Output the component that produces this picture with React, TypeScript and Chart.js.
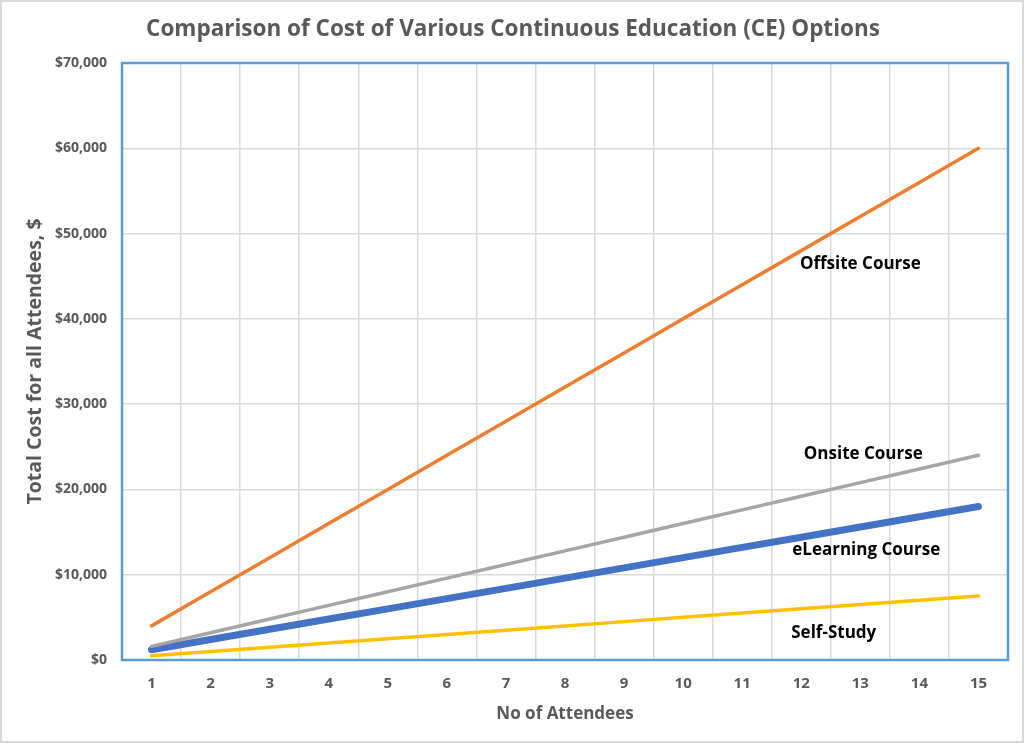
import { useEffect, useRef } from "react";
import { Chart, registerables } from "chart.js";

Chart.register(...registerables);

const attendees = ["1", "2", "3", "4", "5", "6", "7", "8", "9", "10", "11", "12", "13", "14", "15"];
const offsiteCost = [4000, 8000, 12000, 16000, 20000, 24000, 28000, 32000, 36000, 40000, 44000, 48000, 52000, 56000, 60000];
const onsiteCost = [1600, 3200, 4800, 6400, 8000, 9600, 11200, 12800, 14400, 16000, 17600, 19200, 20800, 22400, 24000];
const elearningCost = [1200, 2400, 3600, 4800, 6000, 7200, 8400, 9600, 10800, 12000, 13200, 14400, 15600, 16800, 18000];
const selfStudyCost = [500, 1000, 1500, 2000, 2500, 3000, 3500, 4000, 4500, 5000, 5500, 6000, 6500, 7000, 7500];

// label text, category index, value
const seriesLabels: [string, number, number][] = [
  ["Offsite Course", 12, 46400],
  ["Onsite Course", 12.05, 24100],
  ["eLearning Course", 12.1, 12900],
  ["Self-Study", 11.55, 3100],
];

const FONT = "'Open Sans', Lato, sans-serif";
const GREY = "#595959";

const framePlugin = {
  id: "frame",
  beforeDraw(chart: Chart) {
    const ctx = chart.ctx;
    ctx.save();
    ctx.fillStyle = "#ffffff";
    ctx.fillRect(0, 0, chart.width, chart.height);
    ctx.strokeStyle = "#d9d9d9";
    ctx.lineWidth = 2;
    ctx.strokeRect(1, 1, chart.width - 2, chart.height - 2);
    ctx.fillStyle = GREY;
    ctx.font = `bold 22.5px ${FONT}`;
    ctx.textAlign = "center";
    ctx.textBaseline = "middle";
    ctx.fillText("Comparison of Cost of Various Continuous Education (CE) Options", 513, 30);
    ctx.restore();
  },
  afterDatasetsDraw(chart: Chart) {
    const ctx = chart.ctx;
    const { left, top, right, bottom } = chart.chartArea;
    const x = chart.scales.x;
    const y = chart.scales.y;
    ctx.save();
    ctx.strokeStyle = "#5B9BD5";
    ctx.lineWidth = 2.5;
    ctx.strokeRect(left, top, right - left, bottom - top);
    ctx.fillStyle = "#000000";
    ctx.font = `bold 17px ${FONT}`;
    ctx.textAlign = "center";
    ctx.textBaseline = "middle";
    for (const [text, idx, val] of seriesLabels) {
      const i0 = Math.floor(idx);
      const px = x.getPixelForValue(i0) + (idx - i0) * (x.getPixelForValue(1) - x.getPixelForValue(0));
      ctx.fillText(text, px, y.getPixelForValue(val));
    }
    ctx.restore();
  },
};

export default function App() {
  const chartRef = useRef<HTMLCanvasElement | null>(null);

  useEffect(() => {
    document.body.style.margin = "0";
    const canvas = chartRef.current;
    if (!canvas) return;

    const chart = new Chart(canvas, {
      type: "line",
      data: {
        labels: attendees,
        datasets: [
          { label: "Offsite Course", data: offsiteCost, borderColor: "#ED7D31", borderWidth: 3.5 },
          { label: "Onsite Course", data: onsiteCost, borderColor: "#A5A5A5", borderWidth: 3.5 },
          { label: "eLearning Course", data: elearningCost, borderColor: "#4472C4", borderWidth: 7 },
          { label: "Self-Study", data: selfStudyCost, borderColor: "#FFC000", borderWidth: 3.5 },
        ],
      },
      options: {
        responsive: false,
        animation: false,
        elements: {
          point: { radius: 0 },
          line: { borderCapStyle: "round", tension: 0 },
        },
        layout: { padding: { top: 63, right: 16, left: 0, bottom: 0 } },
        plugins: {
          legend: { display: false },
          tooltip: { enabled: false },
        },
        scales: {
          x: {
            offset: true,
            grid: { offset: true, color: "#d9d9d9", lineWidth: 1.5, drawTicks: false },
            border: { display: false },
            ticks: { color: GREY, font: { family: FONT, size: 15, weight: "bold" }, padding: 15 },
            title: {
              display: true,
              text: "No of Attendees",
              color: GREY,
              font: { family: FONT, size: 17, weight: "bold" },
              padding: { bottom: 19 },
            },
            afterFit: (s: any) => {
              s.height = 83;
            },
          },
          y: {
            min: 0,
            max: 70000,
            grid: { color: "#d9d9d9", lineWidth: 1.5, drawTicks: false },
            border: { display: false },
            ticks: {
              stepSize: 10000,
              color: GREY,
              font: { family: FONT, size: 14, weight: "bold" },
              padding: 15,
              callback: (v: any) => "$" + Number(v).toLocaleString("en-US"),
            },
            title: {
              display: true,
              text: "Total Cost for all Attendees, $",
              color: GREY,
              font: { family: FONT, size: 19.5, weight: "bold" },
              padding: { top: 24 },
            },
            afterFit: (s: any) => {
              s.width = 122;
            },
          },
        },
      },
      plugins: [framePlugin],
    });

    return () => {
      chart.destroy();
    };
  }, []);

  return (
    <div style={{ width: 1024, height: 743 }}>
      <canvas ref={chartRef} width={1024} height={743} style={{ display: "block" }} />
    </div>
  );
}
